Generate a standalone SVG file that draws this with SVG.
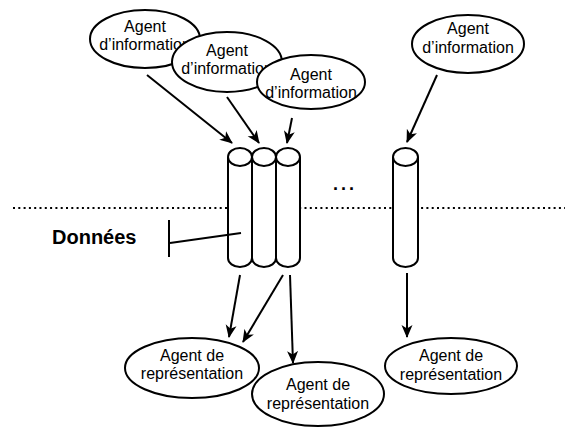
<svg xmlns="http://www.w3.org/2000/svg" width="565" height="428" viewBox="0 0 565 428">
<style>
.n{fill:#fff;stroke:#000;stroke-width:2}
.t{font-family:"Liberation Sans",Arial,sans-serif;font-size:16px;fill:#000;text-anchor:middle}
.c{stroke:#000;stroke-width:2;fill:none}
.a{marker-end:url(#ah)}
</style>
<defs>
<marker id="ah" markerUnits="userSpaceOnUse" viewBox="0 0 13 12" markerWidth="13" markerHeight="12" refX="12" refY="6" orient="auto">
<path d="M0,0.5 L13,6 L0,11.5 L3.5,6 Z" fill="#000"/>
</marker>
</defs>
<rect width="565" height="428" fill="#fff"/>
<line x1="13" y1="208" x2="565" y2="208" stroke="#000" stroke-width="2" stroke-dasharray="2,3.3"/>
<g id="info1"><ellipse class="n" cx="145" cy="39" rx="55" ry="29"/><text class="t" x="145" y="32">Agent</text><text class="t" x="145" y="50">d’information</text></g>
<g id="info2"><ellipse class="n" cx="227" cy="62" rx="55" ry="30"/><text class="t" x="227" y="56">Agent</text><text class="t" x="227" y="74">d’information</text></g>
<g id="info3"><ellipse class="n" cx="311" cy="82" rx="54" ry="27"/><text class="t" x="311" y="80">Agent</text><text class="t" x="311" y="98">d’information</text></g>
<g id="info4"><ellipse class="n" cx="468" cy="44" rx="56" ry="29"/><text class="t" x="468" y="34">Agent</text><text class="t" x="468" y="53">d’information</text></g>
<g id="cyl1"><path class="n" d="M228,157 L228,258 A12,9 0 0 0 252,258 L252,157"/><ellipse class="n" cx="240" cy="157" rx="12" ry="9"/></g>
<g id="cyl2"><path class="n" d="M252,157 L252,258 A12,9 0 0 0 276,258 L276,157"/><ellipse class="n" cx="264" cy="157" rx="12" ry="9"/></g>
<g id="cyl3"><path class="n" d="M276,157 L276,258 A12,9 0 0 0 300,258 L300,157"/><ellipse class="n" cx="288" cy="157" rx="12" ry="9"/></g>
<g id="cyl4"><path class="n" d="M393,157 L393,258 A12.5,9 0 0 0 418,258 L418,157"/><ellipse class="n" cx="405.5" cy="157" rx="12.5" ry="9"/></g>
<g id="dots"><text x="333" y="190" font-family="Liberation Sans,Arial,sans-serif" font-size="18" font-weight="bold" letter-spacing="3">...</text></g>
<g id="donnees"><text x="52" y="244" font-family="Liberation Sans,Arial,sans-serif" font-size="20" font-weight="bold">Données</text></g>
<g id="rep1"><ellipse class="n" cx="192" cy="368" rx="67" ry="30"/><text class="t" x="192" y="361">Agent de</text><text class="t" x="192" y="379">représentation</text></g>
<g id="rep2"><ellipse class="n" cx="318" cy="394" rx="66" ry="32"/><text class="t" x="318" y="390">Agent de</text><text class="t" x="318" y="409">représentation</text></g>
<g id="rep4"><ellipse class="n" cx="451" cy="366" rx="66" ry="28"/><text class="t" x="451" y="361">Agent de</text><text class="t" x="451" y="380">représentation</text></g>
<g id="connectors">
<line class="c a" x1="147" y1="75" x2="232" y2="143"/>
<line class="c a" x1="227" y1="97" x2="259" y2="143"/>
<line class="c a" x1="292" y1="118" x2="287" y2="143"/>
<line class="c a" x1="437" y1="75" x2="407" y2="142"/>
<line class="c a" x1="240" y1="275" x2="229" y2="337"/>
<line class="c a" x1="283" y1="275" x2="243" y2="342"/>
<line class="c a" x1="290" y1="275" x2="293" y2="363"/>
<line class="c a" x1="407" y1="273" x2="407" y2="337"/>
<line class="c" x1="170" y1="243" x2="241" y2="233"/>
<line class="c" x1="169" y1="220" x2="169" y2="257"/>
</g>
</svg>
